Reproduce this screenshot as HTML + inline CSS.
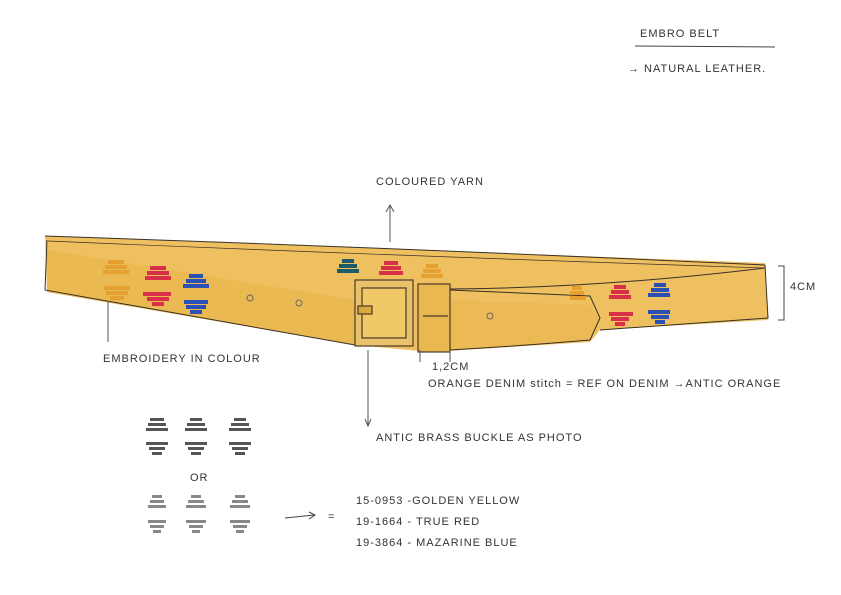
<!DOCTYPE html>
<html><head><style>
html,body{margin:0;padding:0;background:#fff;}
svg{display:block}
text{font-family:"Liberation Sans",sans-serif;fill:#333;font-size:11px;letter-spacing:1px}
</style></head><body>
<svg width="841" height="595" viewBox="0 0 841 595" xmlns="http://www.w3.org/2000/svg">
<rect width="841" height="595" fill="#fff"/>
<text x="640" y="37" font-size="12">EMBRO BELT</text>
<line x1="635" y1="46" x2="775" y2="47" stroke="#444" stroke-width="1"/>
<text x="628" y="72" font-size="10">→ NATURAL LEATHER.</text>
<text x="376" y="185" font-size="9">COLOURED YARN</text>
<line x1="390" y1="242" x2="390" y2="206" stroke="#555"/>
<path d="M386 212 L390 205 L394 212" fill="none" stroke="#555"/>
<!-- belt body -->
<polygon points="45,236 765,263 768,320 600,330 590,342 430,352 355,345 47,292" fill="#eec060"/>
<polygon points="47,250 355,300 355,345 47,292" fill="#e8b448" opacity="0.6"/>
<polygon points="450,300 590,305 600,318 590,340 450,350" fill="#e8b448" opacity="0.5"/>
<g fill="none" stroke="#3a3028" stroke-width="1">
<path d="M45 236 Q400 248 765 265"/>
<path d="M48 241 Q400 256 765 268" stroke-width="0.7"/>
<path d="M47 240 L45 290 Q200 318 355 345"/>
<path d="M450 290 L590 296 L600 318 L590 340 Q520 346 450 350"/>
<path d="M765 265 L768 318 L600 330"/>
<path d="M450 289 Q600 288 765 268"/>
</g>
<g fill="none" stroke="#666"><circle cx="250" cy="298" r="3"/><circle cx="299" cy="303" r="3"/><circle cx="490" cy="316" r="3"/></g>
<!-- buckle -->
<g fill="none" stroke="#4a3a28" stroke-width="1.2">
<rect x="355" y="280" width="58" height="66" fill="#e9c26a"/>
<rect x="362" y="288" width="44" height="50" fill="#f0c866"/>
<rect x="358" y="306" width="14" height="8" fill="#d9a840"/>
<rect x="418" y="284" width="32" height="68" fill="#eab850"/>
<line x1="423" y1="316" x2="448" y2="316"/>
</g>
<g>
<g fill="#e5a030"><rect x="108" y="260" width="16" height="4"/><rect x="105" y="265" width="22" height="4"/><rect x="103" y="270" width="26" height="4"/>
<rect x="104" y="286" width="26" height="4"/><rect x="106" y="291" width="22" height="4"/><rect x="110" y="296" width="14" height="4"/></g>
<g fill="#d8304a"><rect x="150" y="266" width="16" height="4"/><rect x="147" y="271" width="22" height="4"/><rect x="145" y="276" width="26" height="4"/>
<rect x="143" y="292" width="28" height="4"/><rect x="147" y="297" width="22" height="4"/><rect x="152" y="302" width="12" height="4"/></g>
<g fill="#2a50b8"><rect x="189" y="274" width="14" height="4"/><rect x="186" y="279" width="20" height="4"/><rect x="183" y="284" width="26" height="4"/>
<rect x="184" y="300" width="24" height="4"/><rect x="186" y="305" width="20" height="4"/><rect x="190" y="310" width="12" height="4"/></g>
<g fill="#1e5a6a"><rect x="342" y="259" width="12" height="4"/><rect x="339" y="264" width="18" height="4"/><rect x="337" y="269" width="22" height="4"/></g>
<g fill="#d8304a"><rect x="384" y="261" width="14" height="4"/><rect x="381" y="266" width="20" height="4"/><rect x="379" y="271" width="24" height="4"/></g>
<g fill="#e5a030"><rect x="426" y="264" width="12" height="4"/><rect x="423" y="269" width="18" height="4"/><rect x="421" y="274" width="22" height="4"/></g>
<g fill="#e5a030"><rect x="572" y="286" width="10" height="4"/><rect x="570" y="291" width="14" height="4"/><rect x="570" y="296" width="16" height="4"/></g>
<g fill="#d8304a"><rect x="614" y="285" width="12" height="4"/><rect x="611" y="290" width="18" height="4"/><rect x="609" y="295" width="22" height="4"/>
<rect x="609" y="312" width="24" height="4"/><rect x="611" y="317" width="18" height="4"/><rect x="615" y="322" width="10" height="4"/></g>
<g fill="#2a50b8"><rect x="654" y="283" width="12" height="4"/><rect x="651" y="288" width="18" height="4"/><rect x="648" y="293" width="22" height="4"/>
<rect x="648" y="310" width="22" height="4"/><rect x="651" y="315" width="18" height="4"/><rect x="655" y="320" width="10" height="4"/></g>
</g>
<path d="M778 266 L784 266 L784 320 L778 320" fill="none" stroke="#444"/>
<text x="790" y="290" font-size="10">4CM</text>
<line x1="108" y1="302" x2="108" y2="342" stroke="#555"/>
<text x="103" y="362" font-size="10">EMBROIDERY IN COLOUR</text>
<line x1="420" y1="350" x2="420" y2="362" stroke="#555"/><line x1="450" y1="350" x2="450" y2="362" stroke="#555"/>
<text x="432" y="370" font-size="7">1,2CM</text>
<text x="428" y="387" font-size="10">ORANGE DENIM stitch = REF ON DENIM →ANTIC ORANGE</text>
<line x1="368" y1="350" x2="368" y2="425" stroke="#555"/>
<path d="M365 419 L368 426 L371 419" fill="none" stroke="#555"/>
<text x="376" y="441" font-size="10">ANTIC BRASS BUCKLE AS PHOTO</text>
<g fill="#555">
<rect x="150" y="418" width="14" height="3"/><rect x="148" y="423" width="18" height="3"/><rect x="146" y="428" width="22" height="3"/>
<rect x="146" y="442" width="22" height="3"/><rect x="149" y="447" width="16" height="3"/><rect x="152" y="452" width="10" height="3"/>
<rect x="190" y="418" width="12" height="3"/><rect x="187" y="423" width="18" height="3"/><rect x="185" y="428" width="22" height="3"/>
<rect x="185" y="442" width="22" height="3"/><rect x="188" y="447" width="16" height="3"/><rect x="191" y="452" width="10" height="3"/>
<rect x="234" y="418" width="12" height="3"/><rect x="231" y="423" width="18" height="3"/><rect x="229" y="428" width="22" height="3"/>
<rect x="229" y="442" width="22" height="3"/><rect x="232" y="447" width="16" height="3"/><rect x="235" y="452" width="10" height="3"/>
</g>
<text x="190" y="481" font-size="9">OR</text>
<g fill="#888">
<rect x="152" y="495" width="10" height="3"/><rect x="150" y="500" width="14" height="3"/><rect x="148" y="505" width="18" height="3"/>
<rect x="148" y="520" width="18" height="3"/><rect x="150" y="525" width="14" height="3"/><rect x="153" y="530" width="8" height="3"/>
<rect x="191" y="495" width="10" height="3"/><rect x="188" y="500" width="16" height="3"/><rect x="186" y="505" width="20" height="3"/>
<rect x="186" y="520" width="20" height="3"/><rect x="189" y="525" width="14" height="3"/><rect x="192" y="530" width="8" height="3"/>
<rect x="235" y="495" width="10" height="3"/><rect x="232" y="500" width="16" height="3"/><rect x="230" y="505" width="20" height="3"/>
<rect x="230" y="520" width="20" height="3"/><rect x="233" y="525" width="14" height="3"/><rect x="236" y="530" width="8" height="3"/>
</g>
<line x1="285" y1="518" x2="314" y2="515" stroke="#444"/>
<path d="M309 512 L315 515 L309 519" fill="none" stroke="#444"/>
<text x="328" y="520" font-size="11">=</text>
<text x="356" y="504" font-size="10">15-0953 -GOLDEN YELLOW</text>
<text x="356" y="525" font-size="10">19-1664 - TRUE RED</text>
<text x="356" y="546" font-size="10">19-3864 - MAZARINE BLUE</text>
</svg>
</body></html>
